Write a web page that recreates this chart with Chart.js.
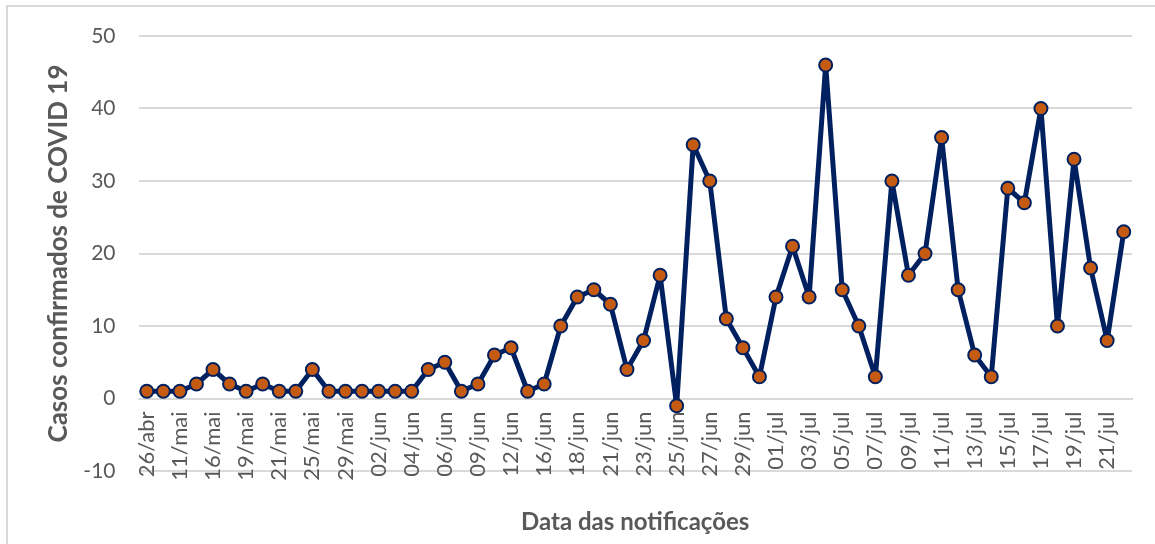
<!DOCTYPE html>
<html>
<head>
<meta charset="utf-8">
<title>Casos confirmados de COVID 19</title>
<script src="https://cdn.jsdelivr.net/npm/chart.js@4.4.1/dist/chart.umd.min.js"></script>
<style>
    html, body { margin: 0; padding: 0; background: #fff; overflow: hidden; }
    #wrap { position: relative; width: 1155px; height: 544px; }
    #frame { position: absolute; left: 6px; top: 5px; width: 1200px; height: 600px; border: 2px solid #d9d9d9; }
    canvas { position: absolute; left: 0; top: 0; }
</style>
</head>
<body>
<div id="wrap">
    <div id="frame"></div>
    <canvas id="covid-chart" width="1155" height="544"></canvas>
</div>
<script>
// Data das notificações (only every second one is printed on the axis)
const dates = [
    '26/abr', '05/mai', '11/mai', '13/mai', '16/mai', '18/mai', '19/mai', '20/mai', '21/mai', '23/mai',
    '25/mai', '27/mai', '29/mai', '31/mai', '02/jun', '03/jun', '04/jun', '05/jun', '06/jun', '08/jun',
    '09/jun', '10/jun', '12/jun', '15/jun', '16/jun', '17/jun', '18/jun', '20/jun', '21/jun', '22/jun',
    '23/jun', '24/jun', '25/jun', '26/jun', '27/jun', '28/jun', '29/jun', '30/jun', '01/jul', '02/jul',
    '03/jul', '04/jul', '05/jul', '06/jul', '07/jul', '08/jul', '09/jul', '10/jul', '11/jul', '12/jul',
    '13/jul', '14/jul', '15/jul', '16/jul', '17/jul', '18/jul', '19/jul', '20/jul', '21/jul', '22/jul'
];

// Casos confirmados por dia
const cases = [
    1, 1, 1, 2, 4, 2, 1, 2, 1, 1,
    4, 1, 1, 1, 1, 1, 1, 4, 5, 1,
    2, 6, 7, 1, 2, 10, 14, 15, 13, 4,
    8, 17, -1, 35, 30, 11, 7, 3, 14, 21,
    14, 46, 15, 10, 3, 30, 17, 20, 36, 15,
    6, 3, 29, 27, 40, 10, 33, 18, 8, 23
];

// Y axis range
const yMin = -10;
const yMax = 50;
const yStep = 10;

const textColor = '#595959';
const gridColor = '#d9d9d9';
const lineColor = '#002060';
const markerColor = '#c55a11';

const ctx = document.getElementById('covid-chart');

new Chart(ctx, {
    type: 'line',
    data: {
        labels: dates,
        datasets: [{
            label: 'Casos confirmados',
            data: cases,
            borderColor: lineColor,
            borderWidth: 5,
            borderJoinStyle: 'round',
            borderCapStyle: 'round',
            tension: 0,
            pointRadius: 6.5,
            pointBorderWidth: 2,
            pointBackgroundColor: markerColor,
            pointBorderColor: lineColor
        }]
    },
    options: {
        responsive: false,
        animation: false,
        layout: {
            padding: { left: 7, right: 23, top: 36, bottom: 73 }
        },
        plugins: {
            legend: { display: false },
            tooltip: { enabled: false }
        },
        scales: {
            x: {
                position: { y: 0 },
                offset: true,
                grid: { display: false, drawTicks: false },
                border: { display: true, color: gridColor, width: 2 },
                ticks: {
                    autoSkip: false,
                    minRotation: 90,
                    maxRotation: 90,
                    padding: 13,
                    color: textColor,
                    font: { family: 'Lato', size: 22 },
                    callback: function (value, index) {
                        return index % 2 === 0 ? this.getLabelForValue(value) : '';
                    }
                },
                title: {
                    display: true,
                    text: 'Data das notificações',
                    color: textColor,
                    font: { family: 'Lato', size: 24, weight: 'bold' },
                    padding: { top: 14, bottom: 0 }
                },
                // labels stay inside the plot, so no extra side padding
                afterFit: function (scale) {
                    scale.paddingLeft = 0;
                    scale.paddingRight = 0;
                }
            },
            y: {
                min: yMin,
                max: yMax,
                grid: { color: gridColor, lineWidth: 2, drawTicks: false },
                border: { display: false },
                ticks: {
                    stepSize: yStep,
                    padding: 23,
                    color: textColor,
                    font: { family: 'Lato', size: 21 }
                },
                title: {
                    display: true,
                    text: 'Casos confirmados de COVID 19',
                    color: textColor,
                    font: { family: 'Lato', size: 26, weight: 'bold' },
                    padding: { top: 36, bottom: 0 }
                },
                afterFit: function (scale) {
                    scale.width = 131.5;
                }
            }
        }
    }
});
</script>
</body>
</html>
